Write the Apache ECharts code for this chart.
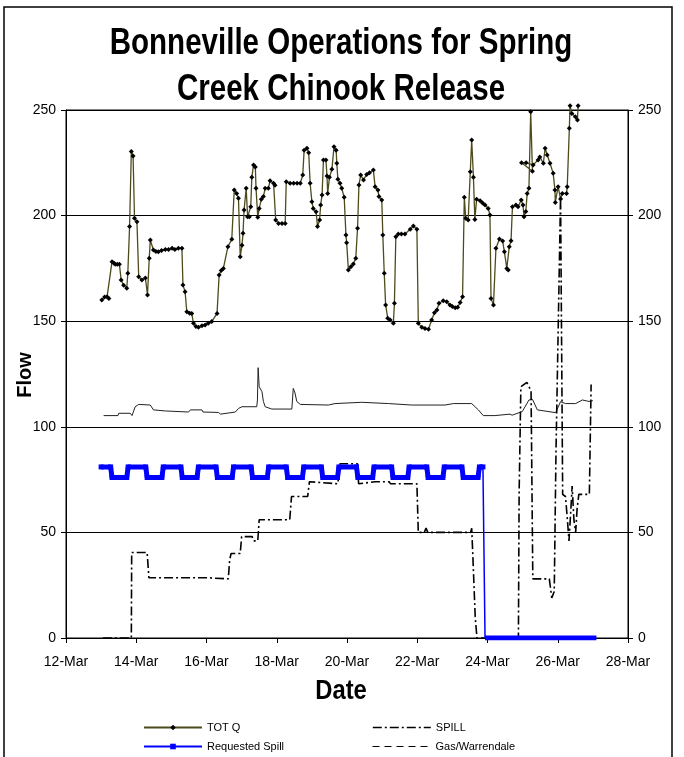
<!DOCTYPE html>
<html><head><meta charset="utf-8">
<script src="https://cdn.jsdelivr.net/npm/echarts@6/dist/echarts.min.js"></script>
<style>html,body{margin:0;padding:0;background:#fff}#c{width:684px;height:757px}</style>
</head><body><div id="c"></div>
<script>
// ---- data (x = day of March, y = flow) ----
const xTickDays = [12, 14, 16, 18, 20, 22, 24, 26, 28];
const yTicks = [0, 50, 100, 150, 200, 250];

const totQ = [
[13.02,160.0],[13.10,161.5],[13.17,161.6],[13.22,160.8],[13.31,178.2],[13.36,177.5],[13.40,177],[13.46,177],[13.52,177],
[13.57,169.5],[13.64,167],[13.73,165.6],[13.76,172.7],[13.81,194.8],[13.86,230.3],[13.91,228.2],[13.95,198.7],[14.02,197.1],
[14.07,171],[14.16,169.5],[14.26,170.5],[14.32,162.4],[14.37,179.8],[14.40,188.4],[14.49,183.7],[14.56,183],[14.63,182.9],
[14.72,183.5],[14.83,184],[14.92,184],[15.02,184.5],[15.10,184],[15.20,184.5],[15.30,184.5],[15.33,167.1],[15.39,164],
[15.44,154.5],[15.52,153.8],[15.58,153.6],[15.63,149],[15.70,147.5],[15.77,147.1],[15.87,147.8],[15.96,148.2],[16.05,149],
[16.15,149.8],[16.30,153.7],[16.36,171.9],[16.42,174],[16.48,175],[16.61,185.3],[16.72,188.8],[16.79,212.1],[16.86,210.5],
[16.91,208.2],[16.96,180.5],[17.01,186],[17.04,191.6],[17.07,202.7],[17.13,212.9],[17.17,199.5],[17.22,199.4],[17.26,204.2],
[17.29,218.1],[17.34,224],[17.39,223],[17.41,212.9],[17.46,199.2],[17.50,203.4],[17.56,207.7],[17.62,209],[17.67,212.9],
[17.76,212.9],[17.81,216.5],[17.91,215.3],[17.95,214.4],[17.97,197.9],[18.05,196.3],[18.15,196.3],[18.24,196.3],[18.27,216],
[18.38,215.3],[18.48,215.3],[18.58,215.3],[18.67,215.3],[18.74,219.2],[18.78,231],[18.86,231.9],[18.91,229.8],[18.95,215.3],
[19.00,206.6],[19.04,203.4],[19.12,201.8],[19.16,194.8],[19.22,197.9],[19.25,205],[19.29,209.8],[19.33,226.3],[19.40,226.3],
[19.43,218.8],[19.45,210.5],[19.50,218.1],[19.57,221.9],[19.63,232.6],[19.69,231],[19.71,224.8],[19.74,217.2],[19.80,215.3],
[19.85,212.9],[19.92,208.7],[19.97,190.8],[19.99,187.2],[20.04,174.2],[20.11,175.8],[20.18,177.1],[20.25,179.8],[20.30,194],
[20.34,214.5],[20.39,219.2],[20.47,216.9],[20.56,219.5],[20.64,220.3],[20.75,221.6],[20.80,213.7],[20.88,212.1],[20.91,209],
[20.99,207.4],[21.02,190.8],[21.06,172.7],[21.10,157.7],[21.16,151.4],[21.23,150.6],[21.32,149],[21.35,158.5],[21.39,190],
[21.46,191.3],[21.55,191.3],[21.65,191.3],[21.80,193.5],[21.89,195.1],[21.99,193.5],[22.03,149],[22.13,147.1],[22.22,146.5],
[22.32,146.2],[22.41,150.6],[22.49,154],[22.56,155.3],[22.62,158.5],[22.74,159.7],[22.84,159.2],[22.93,157.7],[23.00,157],
[23.08,156.4],[23.15,156.6],[23.22,158.8],[23.29,161.6],[23.34,208.7],[23.38,198.7],[23.45,197.9],[23.51,220.8],[23.55,235.8],
[23.60,218.1],[23.64,198.2],[23.69,207.7],[23.79,207],[23.86,206],[23.93,205],[24.02,203.4],[24.07,200.3],[24.10,160.8],
[24.17,157.7],[24.24,184.5],[24.34,188.9],[24.43,188],[24.48,182.9],[24.55,175],[24.59,174.2],[24.62,185.3],[24.67,188.1],
[24.71,204.2],[24.81,205],[24.87,204.2],[24.96,207.4],[25.01,205],[25.04,199.5],[25.09,201.9],[25.13,210.5],[25.18,212.9],
[25.23,249.2],[25.28,221],[24.97,225],[25.10,225],[25.30,224],[25.44,226.3],[25.49,227.8],[25.59,224.8],[25.64,231.9],
[25.70,228.7],[25.78,224.8],[25.87,220],[25.92,212.1],[25.93,206.2],[26.01,213.7],[26.08,207.9],[26.13,210.5],[26.25,210.5],
[26.27,213.7],[26.33,241.3],[26.35,252],[26.40,248.4],[26.50,246.8],[26.56,245.3],[26.58,252]
];

const spill = [
[13.05,0],[13.86,0],[13.87,40.5],[14.31,40.5],[14.36,28.5],[16.04,28.5],[16.06,28],[16.62,28],[16.66,37],[16.70,40],
[16.96,40],[17.00,48],[17.30,48],[17.34,46],[17.46,46],[17.50,56],[18.37,56],[18.42,67],[18.88,67],[18.93,74],[19.74,73],
[19.80,82.5],[20.30,82.5],[20.33,73],[20.80,74],[21.20,74],[21.24,73],[21.99,73],[22.03,50],[22.20,50],[22.25,52],[22.30,50],
[23.52,50],[23.55,52],[23.58,40],[23.65,10],[23.70,0],[24.88,0],[24.90,68],[24.95,119],[25.12,121],[25.24,117],[25.29,28],
[25.76,28],[25.83,19],[25.90,22],[25.95,88],[26.08,209],[26.12,209],[26.14,68],[26.22,67],[26.27,57],[26.32,46],[26.36,57],
[26.41,72],[26.46,56],[26.51,50],[26.55,61],[26.60,68],[26.90,68],[26.95,120]
];

const gas = [
[13.07,105.3],[13.48,105.3],[13.50,106.4],[13.83,106.4],[13.88,105.3],[13.97,109.5],[14.07,110.6],[14.40,110.3],[14.49,108],
[14.83,107.5],[15.49,107],[15.54,108],[15.87,108],[15.90,107],[16.34,106.8],[16.40,106],[16.82,107],[16.91,108.7],[17.01,109.5],
[17.43,109.5],[17.45,112.7],[17.47,128],[17.50,119],[17.58,116.6],[17.62,112],[17.67,109.5],[17.86,108.4],[18.43,108.4],
[18.47,118.2],[18.52,116],[18.57,112],[18.67,110.6],[19.47,110.3],[19.66,111],[20.42,111.6],[21.18,111],[21.84,110.3],
[22.79,110.3],[23.03,111],[23.55,111],[23.74,108],[23.88,105.3],[24.21,105.3],[24.64,106],[24.70,105.5],[24.99,107.2],
[25.18,112.7],[25.28,113],[25.42,108],[25.94,106.7],[26.08,111.9],[26.22,111],[26.51,111],[26.70,112.7],[26.89,112],[27.00,112.4]
];

const reqSpill = [
[13.00,81],[13.27,81],[13.31,76],[13.73,76],[13.77,81],[14.27,81],[14.31,76],[14.73,76],[14.77,81],[15.27,81],[15.31,76],
[15.73,76],[15.77,81],[16.27,81],[16.31,76],[16.73,76],[16.77,81],[17.27,81],[17.31,76],[17.73,76],[17.77,81],[18.27,81],
[18.31,76],[18.73,76],[18.77,81],[19.27,81],[19.31,76],[19.73,76],[19.77,81],[20.27,81],[20.31,76],[20.73,76],[20.77,81],
[21.27,81],[21.31,76],[21.73,76],[21.77,81],[22.27,81],[22.31,76],[22.73,76],[22.77,81],[23.27,81],[23.31,76],[23.73,76],
[23.77,81],[23.87,81]
];
const reqSpillDrop = [[23.87,81],[23.93,0]];
const reqSpillZero = [[23.93,0],[27.10,0]];

// ---- chart ----
const FONT = "'Liberation Sans',Arial,sans-serif";
const chart = echarts.init(document.getElementById('c'));
const yAxisBase = {
  type: 'value', min: 0, max: 250, interval: 50,
  axisLine: {show: true, lineStyle: {color: '#000', width: 1}},
  axisTick: {show: true, inside: false, length: 5, lineStyle: {color: '#000'}},
  axisLabel: {color: '#000', fontFamily: FONT, fontSize: 14, margin: 10},
};
const legendText = {fontFamily: FONT, fontSize: 11, color: '#000'};
const legendBase = {itemWidth: 58, itemHeight: 7, padding: 0, textStyle: legendText};
chart.setOption({
  animation: false,
  backgroundColor: '#fff',
  grid: {left: 66, right: 56, top: 110, bottom: 119, show: true, borderColor: '#000', borderWidth: 1},
  graphic: [
    {type: 'rect', shape: {x: 4, y: 7, width: 668, height: 780}, style: {fill: 'none', stroke: '#000', lineWidth: 1.5}, silent: true},
    {type: 'text', x: 341, y: 44, scaleX: 0.82, style: {text: 'Bonneville Operations for Spring', fontFamily: FONT, fontWeight: 'bold', fontSize: 36, fill: '#000', align: 'center', verticalAlign: 'middle'}},
    {type: 'text', x: 341, y: 90, scaleX: 0.82, style: {text: 'Creek Chinook Release', fontFamily: FONT, fontWeight: 'bold', fontSize: 36, fill: '#000', align: 'center', verticalAlign: 'middle'}},
    {type: 'text', x: 341, y: 691, scaleX: 0.85, style: {text: 'Date', fontFamily: FONT, fontWeight: 'bold', fontSize: 28, fill: '#000', align: 'center', verticalAlign: 'middle'}},
    {type: 'text', x: 25, y: 375, rotation: Math.PI / 2, style: {text: 'Flow', fontFamily: FONT, fontWeight: 'bold', fontSize: 20, fill: '#000', align: 'center', verticalAlign: 'middle'}}
  ],
  legend: [
    Object.assign({left: 143, top: 722, data: [{name: 'TOT Q'}]}, legendBase),
    Object.assign({left: 143, top: 741, data: [{name: 'Requested Spill'}]}, legendBase),
    Object.assign({left: 372, top: 722, data: [{name: 'SPILL', itemStyle: {opacity: 0}, lineStyle: {color: '#000', width: 1.6, type: [9, 3, 2, 3]}}]}, legendBase),
    Object.assign({left: 372, top: 741, data: [{name: 'Gas/Warrendale', itemStyle: {opacity: 0}, lineStyle: {color: '#000', width: 1, type: [7, 5]}}]}, legendBase)
  ],
  xAxis: {
    type: 'value', min: 12, max: 28, interval: 2,
    axisLine: {show: true, lineStyle: {color: '#000'}},
    axisTick: {show: true, length: 5, lineStyle: {color: '#000'}},
    splitLine: {show: false},
    axisLabel: {color: '#000', fontFamily: FONT, fontSize: 14, margin: 17, formatter: v => v + '-Mar'}
  },
  yAxis: [
    Object.assign({}, yAxisBase, {position: 'left', splitLine: {show: true, lineStyle: {color: '#000', width: 1}}}),
    Object.assign({}, yAxisBase, {position: 'right', splitLine: {show: false}})
  ],
  series: [
    {name: 'Gas/Warrendale', type: 'line', data: gas, showSymbol: false, symbol: 'none', z: 2,
     lineStyle: {color: '#222', width: 1}, itemStyle: {color: '#222'}},
    {name: 'SPILL', type: 'line', data: spill, symbol: 'none', z: 3,
     lineStyle: {color: '#000', width: 1.6, type: [9, 3, 2, 3]}, itemStyle: {color: '#000'}},
    {name: 'Requested Spill', type: 'line', data: reqSpill, symbol: 'rect', symbolSize: 5, z: 4,
     lineStyle: {color: '#0000ff', width: 5}, itemStyle: {color: '#0000ff'}},
    {name: 'Requested Spill', type: 'line', data: reqSpillDrop, symbol: 'none', z: 4,
     lineStyle: {color: '#0000ff', width: 1.5}, itemStyle: {color: '#0000ff'}},
    {name: 'Requested Spill', type: 'line', data: reqSpillZero, symbol: 'none', z: 4,
     lineStyle: {color: '#0000ff', width: 5}, itemStyle: {color: '#0000ff'}},
    {name: 'TOT Q', type: 'line', data: totQ, symbol: 'diamond', symbolSize: 5, clip: false, z: 5,
     lineStyle: {color: '#4d4b1c', width: 1.3}, itemStyle: {color: '#000'}}
  ]
});
</script></body></html>
